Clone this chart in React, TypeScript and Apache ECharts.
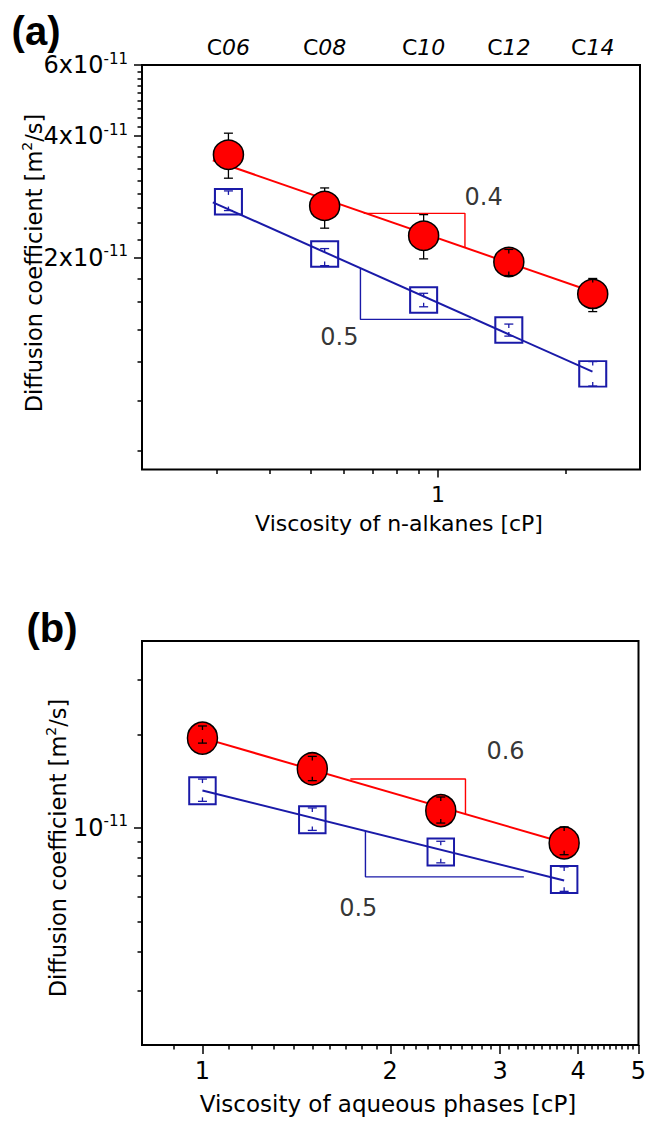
import React, { useEffect, useRef } from "react";
import * as echarts from "echarts";

// ---------------- Panel (a): n-alkanes ----------------
const alkaneCarbon = ["06", "08", "10", "12", "14"];
const viscAlkane = [0.32, 0.54, 0.925, 1.47, 2.32];
const dFilledA = [3.6e-11, 2.69e-11, 2.27e-11, 1.955e-11, 1.63e-11];
const dFilledAHigh = [4.07e-11, 2.98e-11, 2.56e-11, 2.1e-11, 1.78e-11];
const dFilledALow = [3.15e-11, 2.37e-11, 1.99e-11, 1.81e-11, 1.474e-11];
const dOpenA = [2.756e-11, 2.045e-11, 1.575e-11, 1.327e-11, 1.034e-11];
const dOpenAHigh = [2.93e-11, 2.11e-11, 1.636e-11, 1.373e-11, 1.109e-11];
const dOpenALow = [2.62e-11, 1.915e-11, 1.515e-11, 1.282e-11, 0.965e-11];
const fitFilledA = [[0.294, 3.49e-11], [2.317, 1.65e-11]];
const fitOpenA = [[0.294, 2.746e-11], [2.317, 1.047e-11]];
const slopeFilledA = [[0.668, 2.579e-11], [1.158, 2.579e-11], [1.158, 2.127e-11]];
const slopeOpenA = [[0.656, 1.88e-11], [0.656, 1.41e-11], [1.194, 1.41e-11]];
const slopeTextA = ["0.4", "0.5"];
const slopeTextAtA = [[1.282, 2.832e-11], [0.585, 1.275e-11]];

const xRangeA = [0.2, 3];
const yRangeA = [6e-12, 6e-11];
const xMajorA = [1];
const xMinorA = [0.3, 0.4, 0.5, 0.6, 0.7, 0.8, 0.9, 2];
const yMajorA = [2e-11, 4e-11, 6e-11];
const yMinorA = [
  0.667e-11, 0.889e-11, 1.111e-11, 1.333e-11, 1.556e-11, 1.778e-11,
  2.222e-11, 2.444e-11, 2.667e-11, 2.889e-11, 3.111e-11, 3.333e-11, 3.556e-11, 3.778e-11,
  4.222e-11, 4.444e-11, 4.667e-11, 4.889e-11, 5.111e-11, 5.333e-11, 5.556e-11, 5.778e-11,
];

// ---------------- Panel (b): aqueous phases ----------------
const viscAqueous = [1.0, 1.5, 2.41, 3.8];
const dFilledB = [1.947e-11, 1.551e-11, 1.137e-11, 0.895e-11];
const dFilledBHigh = [2.13e-11, 1.7e-11, 1.258e-11, 1.007e-11];
const dFilledBLow = [1.876e-11, 1.42e-11, 1.037e-11, 0.82e-11];
const dOpenB = [1.318e-11, 1.063e-11, 0.837e-11, 0.682e-11];
const dOpenBHigh = [1.437e-11, 1.16e-11, 0.906e-11, 0.749e-11];
const dOpenBLow = [1.218e-11, 0.982e-11, 0.772e-11, 0.625e-11];
const fitFilledB = [[1.0, 1.95e-11], [3.8, 0.896e-11]];
const fitOpenB = [[1.0, 1.321e-11], [3.8, 0.677e-11]];
const slopeFilledB = [[1.726, 1.437e-11], [2.64, 1.437e-11], [2.64, 1.104e-11]];
const slopeOpenB = [[1.825, 0.975e-11], [1.825, 0.696e-11], [3.275, 0.696e-11]];
const slopeTextB = ["0.6", "0.5"];
const slopeTextAtB = [[3.06, 1.763e-11], [1.777, 0.553e-11]];

const xRangeB = [0.8, 5];
const yRangeB = [2e-12, 4e-11];
const xMajorB = [1, 2, 3, 4, 5];
const xMinorB = [
  0.9, 1.1, 1.2, 1.3, 1.4, 1.5, 1.6, 1.7, 1.8, 1.9,
  2.1, 2.2, 2.3, 2.4, 2.5, 2.6, 2.7, 2.8, 2.9,
  3.1, 3.2, 3.3, 3.4, 3.5, 3.6, 3.7, 3.8, 3.9,
  4.1, 4.2, 4.3, 4.4, 4.5, 4.6, 4.7, 4.8, 4.9,
];
const yMajorB = [1e-11];
const yMinorB = [3e-12, 4e-12, 5e-12, 6e-12, 7e-12, 8e-12, 9e-12, 2e-11, 3e-11];

const RED = "#ff0000";
const BLUE = "#1a1aa8";
const FONT = '"DejaVu Sans", sans-serif';

function errorBarSeries(xs: number[], c: number[], hi: number[], lo: number[], xi: number, yi: number, color: string, half: number) {
  return {
    type: "custom",
    xAxisIndex: xi,
    yAxisIndex: yi,
    z: 5,
    silent: true,
    encode: { x: 0, y: [1, 2, 3] },
    data: xs.map((x, i) => [x, c[i], hi[i], lo[i]]),
    renderItem: (params: any, api: any) => {
      const pc = api.coord([api.value(0), api.value(1)]);
      const ph = api.coord([api.value(0), api.value(2)]);
      const pl = api.coord([api.value(0), api.value(3)]);
      const cap = 4.5;
      const children: any[] = [];
      const side = (py: number, dir: number) => {
        const dist = Math.abs(py - pc[1]);
        const len = Math.max(dist - half, 4);
        const end = py - dir * len;
        children.push({ type: "line", shape: { x1: pc[0], y1: py, x2: pc[0], y2: end }, style: { stroke: color, lineWidth: 1.3 } });
        children.push({ type: "line", shape: { x1: pc[0] - cap, y1: py, x2: pc[0] + cap, y2: py }, style: { stroke: color, lineWidth: 1.3 } });
      };
      side(ph[1], -1);
      side(pl[1], 1);
      return { type: "group", children };
    },
  };
}

function lineSeries(data: number[][], xi: number, yi: number, color: string, width: number) {
  return {
    type: "line",
    xAxisIndex: xi,
    yAxisIndex: yi,
    data,
    symbol: "none",
    silent: true,
    z: 2,
    lineStyle: { color, width },
  };
}

function textSeries(texts: string[], at: number[][], xi: number, yi: number, size: number) {
  return {
    type: "scatter",
    xAxisIndex: xi,
    yAxisIndex: yi,
    symbolSize: 1,
    silent: true,
    z: 6,
    itemStyle: { color: "rgba(0,0,0,0)" },
    data: at.map((p, i) => ({ value: p, label: { formatter: texts[i] } })),
    label: { show: true, position: "inside", fontSize: size, fontFamily: FONT, color: "#000" },
  };
}

function yLabel(v: number, pre: boolean) {
  const m = Math.round(v / 1e-11);
  return pre ? `{n|${m}x10}{s|-11}` : `{n|10}{s|-11}`;
}

function buildOption() {
  const tickStyle = { color: "#000", width: 1.5 };
  const numRich = (size: number) => ({
    n: { fontSize: size, fontFamily: FONT, color: "#000", lineHeight: 28 },
    s: { fontSize: 15, fontFamily: FONT, color: "#000", lineHeight: 10, verticalAlign: "top" },
  });
  const logAxisBase = (gridIndex: number, range: number[]) => ({
    type: "log",
    logBase: 10,
    gridIndex,
    min: range[0],
    max: range[1],
    splitLine: { show: false },
    minorTick: { show: false },
    minorSplitLine: { show: false },
    axisLine: { show: false },
  });

  const xAxis: any[] = [
    {
      ...logAxisBase(0, xRangeA),
      position: "bottom",
      axisTick: { show: true, inside: false, length: 8, lineStyle: tickStyle, customValues: xMajorA },
      axisLabel: { show: true, customValues: xMajorA, margin: 14, fontSize: 22, fontFamily: FONT, color: "#000", formatter: (v: number) => String(Math.round(v)) },
    },
    {
      ...logAxisBase(0, xRangeA),
      position: "bottom",
      axisTick: { show: true, inside: false, length: 4.5, lineStyle: tickStyle, customValues: xMinorA },
      axisLabel: { show: false },
    },
    {
      ...logAxisBase(0, xRangeA),
      position: "top",
      axisTick: { show: false },
      axisLabel: {
        show: true,
        customValues: viscAlkane,
        margin: 7,
        formatter: (v: number) => {
          let best = 0;
          let bd = Infinity;
          viscAlkane.forEach((x, i) => {
            const d = Math.abs(Math.log(x) - Math.log(v));
            if (d < bd) { bd = d; best = i; }
          });
          return `{c|C}{i|${alkaneCarbon[best]}}`;
        },
        rich: {
          c: { fontSize: 22, fontFamily: FONT, fontStyle: "normal", color: "#000" },
          i: { fontSize: 22, fontFamily: FONT, fontStyle: "italic", color: "#000" },
        },
      },
    },
    {
      ...logAxisBase(1, xRangeB),
      position: "bottom",
      axisTick: { show: true, inside: false, length: 9, lineStyle: tickStyle, customValues: xMajorB },
      axisLabel: { show: true, customValues: xMajorB, margin: 14, fontSize: 24, fontFamily: FONT, color: "#000", formatter: (v: number) => String(Math.round(v)) },
    },
    {
      ...logAxisBase(1, xRangeB),
      position: "bottom",
      axisTick: { show: true, inside: false, length: 4.5, lineStyle: tickStyle, customValues: xMinorB },
      axisLabel: { show: false },
    },
  ];

  const yAxis: any[] = [
    {
      ...logAxisBase(0, yRangeA),
      position: "left",
      axisTick: { show: true, inside: false, length: 8, lineStyle: tickStyle, customValues: yMajorA },
      axisLabel: { show: true, customValues: yMajorA, margin: 14, formatter: (v: number) => yLabel(v, true), rich: numRich(24) },
    },
    {
      ...logAxisBase(0, yRangeA),
      position: "left",
      axisTick: { show: true, inside: false, length: 4.5, lineStyle: tickStyle, customValues: yMinorA },
      axisLabel: { show: false },
    },
    {
      ...logAxisBase(1, yRangeB),
      position: "left",
      axisTick: { show: true, inside: false, length: 8, lineStyle: tickStyle, customValues: yMajorB },
      axisLabel: { show: true, customValues: yMajorB, margin: 14, formatter: (v: number) => yLabel(v, false), rich: numRich(24) },
    },
    {
      ...logAxisBase(1, yRangeB),
      position: "left",
      axisTick: { show: true, inside: false, length: 4.5, lineStyle: tickStyle, customValues: yMinorB },
      axisLabel: { show: false },
    },
  ];

  const series: any[] = [
    lineSeries(fitFilledA, 0, 0, RED, 2),
    lineSeries(fitOpenA, 0, 0, BLUE, 2),
    lineSeries(slopeFilledA, 0, 0, RED, 1.4),
    lineSeries(slopeOpenA, 0, 0, BLUE, 1.4),
    {
      type: "scatter", xAxisIndex: 0, yAxisIndex: 0, z: 3, silent: true,
      symbol: "circle", symbolSize: [30, 29],
      itemStyle: { color: RED, borderColor: "#000", borderWidth: 1.5, opacity: 1 },
      data: viscAlkane.map((x, i) => [x, dFilledA[i]]),
    },
    {
      type: "scatter", xAxisIndex: 0, yAxisIndex: 0, z: 3, silent: true,
      symbol: "rect", symbolSize: [27, 25.5],
      itemStyle: { color: "rgba(0,0,0,0)", borderColor: BLUE, borderWidth: 2, opacity: 1 },
      data: viscAlkane.map((x, i) => [x, dOpenA[i]]),
    },
    errorBarSeries(viscAlkane, dFilledA, dFilledAHigh, dFilledALow, 0, 0, "#000", 14.5),
    errorBarSeries(viscAlkane, dOpenA, dOpenAHigh, dOpenALow, 0, 0, BLUE, 12.7),
    textSeries(slopeTextA, slopeTextAtA, 0, 0, 24),
    lineSeries(fitFilledB, 3, 2, RED, 2),
    lineSeries(fitOpenB, 3, 2, BLUE, 2),
    lineSeries(slopeFilledB, 3, 2, RED, 1.4),
    lineSeries(slopeOpenB, 3, 2, BLUE, 1.4),
    {
      type: "scatter", xAxisIndex: 3, yAxisIndex: 2, z: 3, silent: true,
      symbol: "circle", symbolSize: [30, 32],
      itemStyle: { color: RED, borderColor: "#000", borderWidth: 1.5, opacity: 1 },
      data: viscAqueous.map((x, i) => [x, dFilledB[i]]),
    },
    {
      type: "scatter", xAxisIndex: 3, yAxisIndex: 2, z: 3, silent: true,
      symbol: "rect", symbolSize: [26.5, 27],
      itemStyle: { color: "rgba(0,0,0,0)", borderColor: BLUE, borderWidth: 2, opacity: 1 },
      data: viscAqueous.map((x, i) => [x, dOpenB[i]]),
    },
    errorBarSeries(viscAqueous, dFilledB, dFilledBHigh, dFilledBLow, 3, 2, "#000", 16),
    errorBarSeries(viscAqueous, dOpenB, dOpenBHigh, dOpenBLow, 3, 2, BLUE, 13.5),
    textSeries(slopeTextB, slopeTextAtB, 3, 2, 24),
  ];

  const titleRich = (size: number) => ({
    t: { fontSize: size, fontFamily: FONT, fill: "#000", lineHeight: 28 },
    s: { fontSize: 14, fontFamily: FONT, fill: "#000", lineHeight: 10, verticalAlign: "top" },
  });

  const graphic: any[] = [
    { type: "text", x: 36, y: 31, style: { text: "(a)", fontSize: 40, fontWeight: "bold", fontFamily: '"Liberation Sans", Arial, sans-serif', fill: "#000", align: "center", verticalAlign: "middle" } },
    { type: "text", x: 52, y: 628, style: { text: "(b)", fontSize: 40, fontWeight: "bold", fontFamily: '"Liberation Sans", Arial, sans-serif', fill: "#000", align: "center", verticalAlign: "middle" } },
    { type: "text", x: 399, y: 523, style: { text: "Viscosity of n-alkanes [cP]", fontSize: 22, fontFamily: FONT, fill: "#000", align: "center", verticalAlign: "middle" } },
    { type: "text", x: 388, y: 1104, style: { text: "Viscosity of aqueous phases [cP]", fontSize: 23, fontFamily: FONT, fill: "#000", align: "center", verticalAlign: "middle" } },
    { type: "text", x: 34, y: 263, rotation: Math.PI / 2, style: { text: "{t|Diffusion coefficient [m}{s|2}{t|/s]}", rich: titleRich(22.5), align: "center", verticalAlign: "middle" } },
    { type: "text", x: 58, y: 848, rotation: Math.PI / 2, style: { text: "{t|Diffusion coefficient [m}{s|2}{t|/s]}", rich: titleRich(22.5), align: "center", verticalAlign: "middle" } },
  ];

  return {
    animation: false,
    backgroundColor: "#fff",
    grid: [
      { left: 142, top: 65, width: 498, height: 404.5, show: true, borderColor: "#000", borderWidth: 2, backgroundColor: "rgba(0,0,0,0)", containLabel: false, outerBoundsMode: "none" },
      { left: 142, top: 641, width: 496.5, height: 404, show: true, borderColor: "#000", borderWidth: 2, backgroundColor: "rgba(0,0,0,0)", containLabel: false, outerBoundsMode: "none" },
    ],
    xAxis,
    yAxis,
    series,
    graphic,
  };
}

export default function App() {
  const ref = useRef<HTMLDivElement>(null);
  useEffect(() => {
    if (!ref.current) return;
    const chart = echarts.init(ref.current, undefined, { renderer: "svg" });
    chart.setOption(buildOption() as any);
    return () => chart.dispose();
  }, []);
  return <div ref={ref} style={{ position: "absolute", left: 0, top: 0, width: 649, height: 1122, background: "#fff" }} />;
}
